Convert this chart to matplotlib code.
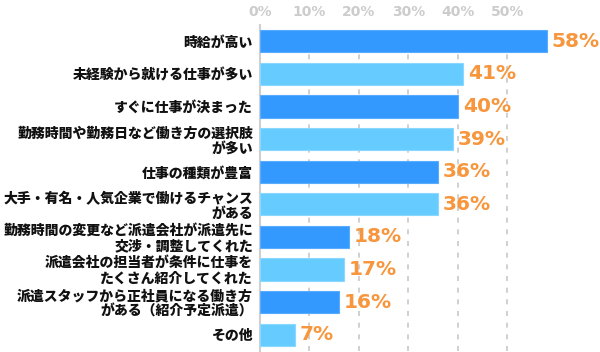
import matplotlib
matplotlib.use("Agg")
import matplotlib.pyplot as plt
from matplotlib.ticker import FixedLocator

plt.rcParams['font.family'] = ['Noto Sans CJK JP', 'DejaVu Sans']

categories = [
    "時給が高い",
    "未経験から就ける仕事が多い",
    "すぐに仕事が決まった",
    "勤務時間や勤務日など働き方の選択肢\nが多い",
    "仕事の種類が豊富",
    "大手・有名・人気企業で働けるチャンス\nがある",
    "勤務時間の変更など派遣会社が派遣先に\n交渉・調整してくれた",
    "派遣会社の担当者が条件に仕事を\nたくさん紹介してくれた",
    "派遣スタッフから正社員になる働き方\nがある（紹介予定派遣）",
    "その他",
]
values = [58, 41, 40, 39, 36, 36, 18, 17, 16, 7]
tick_values = [0, 10, 20, 30, 40, 50]
tick_labels = ["0%", "10%", "20%", "30%", "40%", "50%"]

dark = "#3399ff"
light = "#66ccff"
colors = [dark if i % 2 == 0 else light for i in range(len(values))]
edges = ["#5aacff" if i % 2 == 0 else "#8ad8ff" for i in range(len(values))]

fig = plt.figure(figsize=(6.0, 3.52), dpi=100)
W, H = 600, 352
ax = fig.add_axes([260 / W, 1 - 351 / H, 340 / W, (351 - 25) / H])

y = list(range(len(values)))
ax.barh(y, values, height=0.68, color=colors, edgecolor=edges, linewidth=0.8, zorder=3)
ax.set_ylim(len(values) - 0.5, -0.5)
ax.set_xlim(0, 68.7)

for v in tick_values[1:]:
    ax.axvline(v, color="#c8c8c8", lw=1.2, ls=(0, (3, 4)), zorder=1)

ax.xaxis.set_major_locator(FixedLocator(tick_values))
ax.set_xticklabels(tick_labels)
ax.xaxis.tick_top()
ax.tick_params(axis="x", length=0, pad=4, labelcolor="#cccccc")
for lab in ax.get_xticklabels():
    lab.set_fontfamily("DejaVu Sans")
    lab.set_fontweight("bold")
    lab.set_fontsize(10)

ax.set_yticks(y)
ax.set_yticklabels(categories)
ax.tick_params(axis="y", length=0, pad=5)
for lab in ax.get_yticklabels():
    lab.set_fontweight("heavy")
    lab.set_fontsize(10.0)
    lab.set_linespacing(1.08)
    lab.set_color("#111111")

for s in ["top", "right", "bottom"]:
    ax.spines[s].set_visible(False)
ax.spines["left"].set_color("#d0d0d0")
ax.spines["left"].set_linewidth(1.5)

for yi, v in zip(y, values):
    ax.annotate(f"{v}%", (v, yi), xytext=(3.5, 0), textcoords="offset points",
                va="center", ha="left", color="#f7963c", fontsize=14.5,
                fontweight="bold", fontfamily="DejaVu Sans", zorder=4)

fig.savefig("out.png", dpi=100)
